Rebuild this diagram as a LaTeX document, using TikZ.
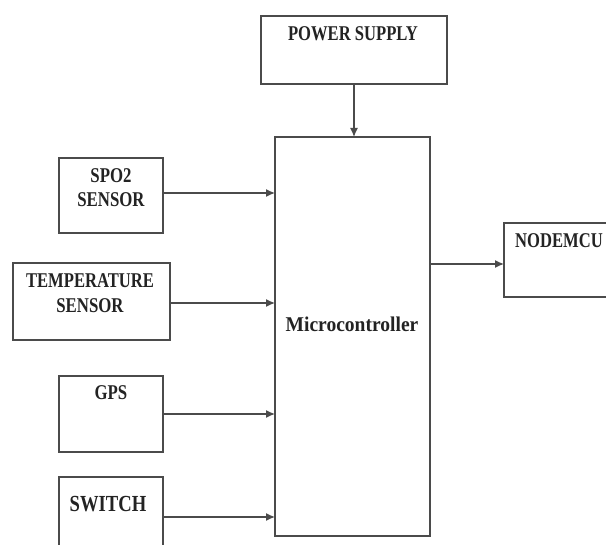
\documentclass[tikz,border=0pt]{standalone}
\usepackage{fontspec}
\usepackage{graphicx}
\setmainfont{Liberation Serif}
\usetikzlibrary{arrows.meta}
\definecolor{ln}{RGB}{75,75,75}
\definecolor{tx}{RGB}{35,35,35}
\newcommand{\sq}[2][0.8]{\scalebox{#1}[1]{#2}}
\tikzset{
  box/.style={draw=ln, line width=1.5pt, fill=white, inner sep=0pt, outer sep=0pt},
  lbl/.style={anchor=base, inner sep=0pt, text=tx, font=\bfseries\fontsize{21}{24}\selectfont},
  arr/.style={draw=ln, line width=1.3pt, -{Latex[length=9pt,width=8pt]}}
}
\begin{document}
\begin{tikzpicture}[x=1pt,y=-1pt]
\useasboundingbox[fill=white] (0,0) rectangle (606,545);
\begin{scope}
\clip (0,0) rectangle (606,545);
% boxes
\node[box, minimum width=186pt, minimum height=68pt] (ps) at (354,50) {};
\node[box, minimum width=155pt, minimum height=399pt] (mc) at (352.5,336.5) {};
\node[box, minimum width=104pt, minimum height=75pt] (spo2) at (111,195.5) {};
\node[box, minimum width=157pt, minimum height=77pt] (temp) at (91.5,301.5) {};
\node[box, minimum width=104pt, minimum height=76pt] (gps) at (111,414) {};
\node[box, minimum width=104pt, minimum height=90pt] (sw) at (111,522) {};
\node[box, minimum width=120pt, minimum height=74pt] (nm) at (564,260) {};
% labels
\node[lbl] (pst) at (353,41) {\sq[0.79]{POWER SUPPLY}};
\node[lbl] (mct) at (352,332) {\sq[0.93]{Microcontroller}};
\node[lbl] (spo2a) at (111,183) {\sq{SPO2}};
\node[lbl] (spo2b) at (111,207) {\sq{SENSOR}};
\node[lbl] (tempa) at (90,288) {\sq[0.79]{TEMPERATURE}};
\node[lbl] (tempb) at (90,313) {\sq{SENSOR}};
\node[lbl] (gpst) at (111,400) {\sq{GPS}};
\node[lbl, font=\bfseries\fontsize{23}{26}\selectfont] (swt) at (108,512) {\sq[0.81]{SWITCH}};
\node[lbl] (nmt) at (559,248) {\sq[0.79]{NODEMCU}};
% connectors
\draw[arr] (ps.south -| 354,0) -- (mc.north -| 354,0);
\draw[arr] (spo2.east |- 0,193) -- (mc.west |- 0,193);
\draw[arr] (temp.east |- 0,303) -- (mc.west |- 0,303);
\draw[arr] (gps.east |- 0,414) -- (mc.west |- 0,414);
\draw[arr] (sw.east |- 0,517) -- (mc.west |- 0,517);
\draw[arr] (mc.east |- 0,264) -- (nm.west |- 0,264);
\end{scope}
\end{tikzpicture}
\end{document}
